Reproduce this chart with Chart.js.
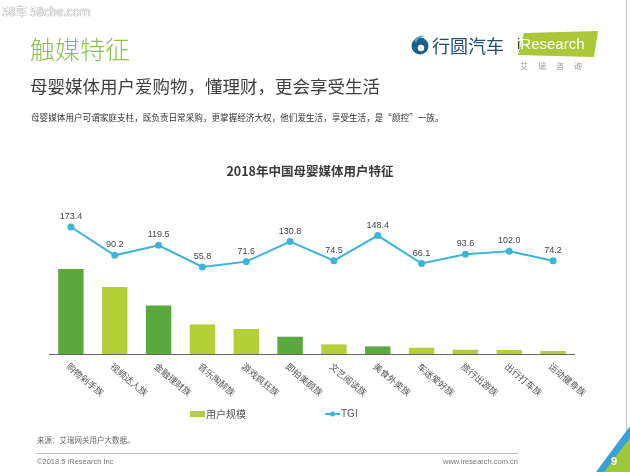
<!DOCTYPE html>
<html>
<head>
<meta charset="utf-8">
<script src="https://cdn.jsdelivr.net/npm/chart.js@4.4.1/dist/chart.umd.min.js"></script>
<style>
  html,body{margin:0;padding:0;background:#fff;}
  #wrap{position:relative;width:630px;height:472px;overflow:hidden;background:#fff;font-family:"Noto Sans CJK SC","Noto Sans",sans-serif;}
  canvas{position:absolute;left:0;top:0;}
  .t{position:absolute;white-space:nowrap;line-height:1;}
</style>
</head>
<body>
<div id="wrap">
  <canvas id="c" width="630" height="472"></canvas>
  <div class="t" style="left:2px;top:5px;font-size:12px;color:#fff;text-shadow:0 0 1px #777,0 0 1px #777;font-family:'Noto Sans CJK SC';">58车 58che.com</div>
  <div class="t" style="left:30px;top:36px;font-size:25px;color:#8cc152;font-weight:300;">触媒特征</div>
  <div class="t" style="left:30px;top:77px;font-size:17.5px;color:#3f3f3f;">母婴媒体用户爱购物，懂理财，更会享受生活</div>
  <div class="t" style="left:31px;top:113px;font-size:8.6px;color:#333;">母婴媒体用户可谓家庭支柱，既负责日常采购，更掌握经济大权，他们爱生活，享受生活，是“颜控”一族。</div>
  <div class="t" style="left:37px;top:436px;font-size:7.5px;color:#666;">来源：艾瑞网关用户大数据。</div>
  <div class="t" style="left:37px;top:458px;font-size:7.5px;color:#777;font-family:'Liberation Sans';">©2018.5 iResearch Inc</div>
  <div class="t" style="left:440px;top:458px;width:78px;text-align:right;font-size:7.5px;color:#777;font-family:'Liberation Sans';">www.iresearch.com.cn</div>
  <div style="position:absolute;left:37px;top:453px;width:481px;height:1px;background:#bbb;"></div>
  <div style="position:absolute;left:626px;top:0;width:1px;height:472px;background:#c8c8c8;"></div>
  <!-- logos -->
  <svg style="position:absolute;left:410px;top:34px" width="20" height="22" viewBox="0 0 20 22">
    <circle cx="10" cy="12" r="8.5" fill="#1d5f86"/>
    <circle cx="11" cy="14" r="3.2" fill="#fff"/>
    <path d="M4 6 Q9 0 15 2 Q8 3 6 9 Z" fill="#4aa3d0"/>
  </svg>
  <div class="t" style="left:432px;top:36px;font-size:18px;color:#1d4e6e;">行圆汽车</div>
  <svg style="position:absolute;left:516px;top:31px" width="82" height="26" viewBox="0 0 82 26">
    <polygon points="8,2 82,0 78,26 2,24" fill="#a8c83a"/>
  </svg>
  <div class="t" style="left:517px;top:36px;font-size:15px;color:#fff;font-family:'Liberation Sans';"><span style="color:#3c4a14">i</span>Research</div>
  <div class="t" style="left:520px;top:62px;font-size:8px;color:#999;letter-spacing:10px;">艾瑞咨询</div>
  <svg style="position:absolute;left:588px;top:424px" width="42" height="48" viewBox="0 0 42 48">
    <polygon points="42,2 42,48 8,48" fill="#3aa0d8"/>
    <polygon points="42,14 42,48 16,48" fill="#9cc93a"/>
  </svg>
  <div class="t" style="left:611px;top:456px;font-size:11px;color:#fff;font-family:'Liberation Sans';font-weight:bold;">9</div>
</div>
<script>
const categories = ["购物剁手族","视频达人族","金融理财族","音乐陶醉族","游戏疯狂族","即拍美颜族","文艺阅读族","美食外卖族","车迷爱好族","旅行出游族","出行打车族","运动健身族"];
const userScale = [85, 67, 48.6, 29.6, 25, 17.3, 9.6, 7.6, 6.3, 4.3, 4, 3];
const tgi = [173.4, 90.2, 119.5, 55.8, 71.6, 130.8, 74.5, 148.4, 66.1, 93.6, 102.0, 74.2];
const chartTitle = "2018年中国母婴媒体用户特征";
const seriesNames = ["用户规模", "TGI"];

const DARK = "#5aa83e", LIGHT = "#b4cf38", LINE = "#3db5d6";
const barColors = [DARK, LIGHT, DARK, LIGHT, LIGHT, DARK, LIGHT, DARK, LIGHT, LIGHT, LIGHT, LIGHT];

const decor = {
  id: "decor",
  afterDatasetsDraw(chart) {
    const ctx = chart.ctx, ca = chart.chartArea;
    const xs = chart.scales.x;
    ctx.save();
    // baseline
    ctx.strokeStyle = "#666"; ctx.lineWidth = 1;
    ctx.beginPath(); ctx.moveTo(ca.left, Math.round(ca.bottom) + 0.5); ctx.lineTo(ca.right, Math.round(ca.bottom) + 0.5); ctx.stroke();
    // TGI labels
    const meta = chart.getDatasetMeta(1);
    ctx.fillStyle = "#444"; ctx.font = "9px 'Liberation Sans', Arial"; ctx.textAlign = "center"; ctx.textBaseline = "bottom";
    meta.data.forEach((p, i) => { ctx.fillText(tgi[i].toFixed(1), p.x, p.y - 6); });
    // category labels rotated
    ctx.fillStyle = "#555"; ctx.font = "9px 'Noto Sans CJK SC'"; ctx.textAlign = "left"; ctx.textBaseline = "middle";
    categories.forEach((c, i) => {
      const x = xs.getPixelForValue(i);
      ctx.save(); ctx.translate(x - 3, ca.bottom + 11); ctx.rotate(40 * Math.PI / 180);
      ctx.fillText(c, 0, 0); ctx.restore();
    });
    // chart title
    ctx.fillStyle = "#3a3a3a"; ctx.font = "bold 12.5px 'Noto Sans CJK SC'"; ctx.textAlign = "center"; ctx.textBaseline = "middle";
    ctx.fillText(chartTitle, 310, 171);
    // legend
    ctx.fillStyle = LIGHT; ctx.fillRect(190, 411, 15, 6);
    ctx.fillStyle = "#555"; ctx.font = "10px 'Noto Sans CJK SC'"; ctx.textAlign = "left";
    ctx.fillText(seriesNames[0], 206, 414);
    ctx.strokeStyle = LINE; ctx.lineWidth = 2; ctx.beginPath(); ctx.moveTo(325, 414); ctx.lineTo(340, 414); ctx.stroke();
    ctx.fillStyle = LINE; ctx.beginPath(); ctx.arc(332.5, 414, 2.5, 0, Math.PI * 2); ctx.fill();
    ctx.fillStyle = "#555"; ctx.font = "10px 'Liberation Sans'";
    ctx.fillText(seriesNames[1], 341, 414);
    ctx.restore();
  }
};

new Chart(document.getElementById("c"), {
  data: {
    labels: categories,
    datasets: [
      { type: "bar", label: seriesNames[0], data: userScale, backgroundColor: barColors, yAxisID: "y", barPercentage: 0.58, categoryPercentage: 1, order: 2 },
      { type: "line", label: seriesNames[1], data: tgi, borderColor: LINE, backgroundColor: LINE, borderWidth: 2, pointRadius: 3.5, pointBackgroundColor: LINE, pointBorderWidth: 0, yAxisID: "y2", tension: 0, order: 1 }
    ]
  },
  options: {
    responsive: false, animation: false,
    layout: { padding: { left: 49, right: 55, top: 205, bottom: 118 } },
    plugins: { legend: { display: false }, tooltip: { enabled: false }, title: { display: false } },
    scales: {
      x: { display: false, offset: true },
      y: { display: false, min: 0, max: 149 },
      y2: { display: false, min: -200, max: 238.2 }
    }
  },
  plugins: [decor]
});
</script>
</body>
</html>
